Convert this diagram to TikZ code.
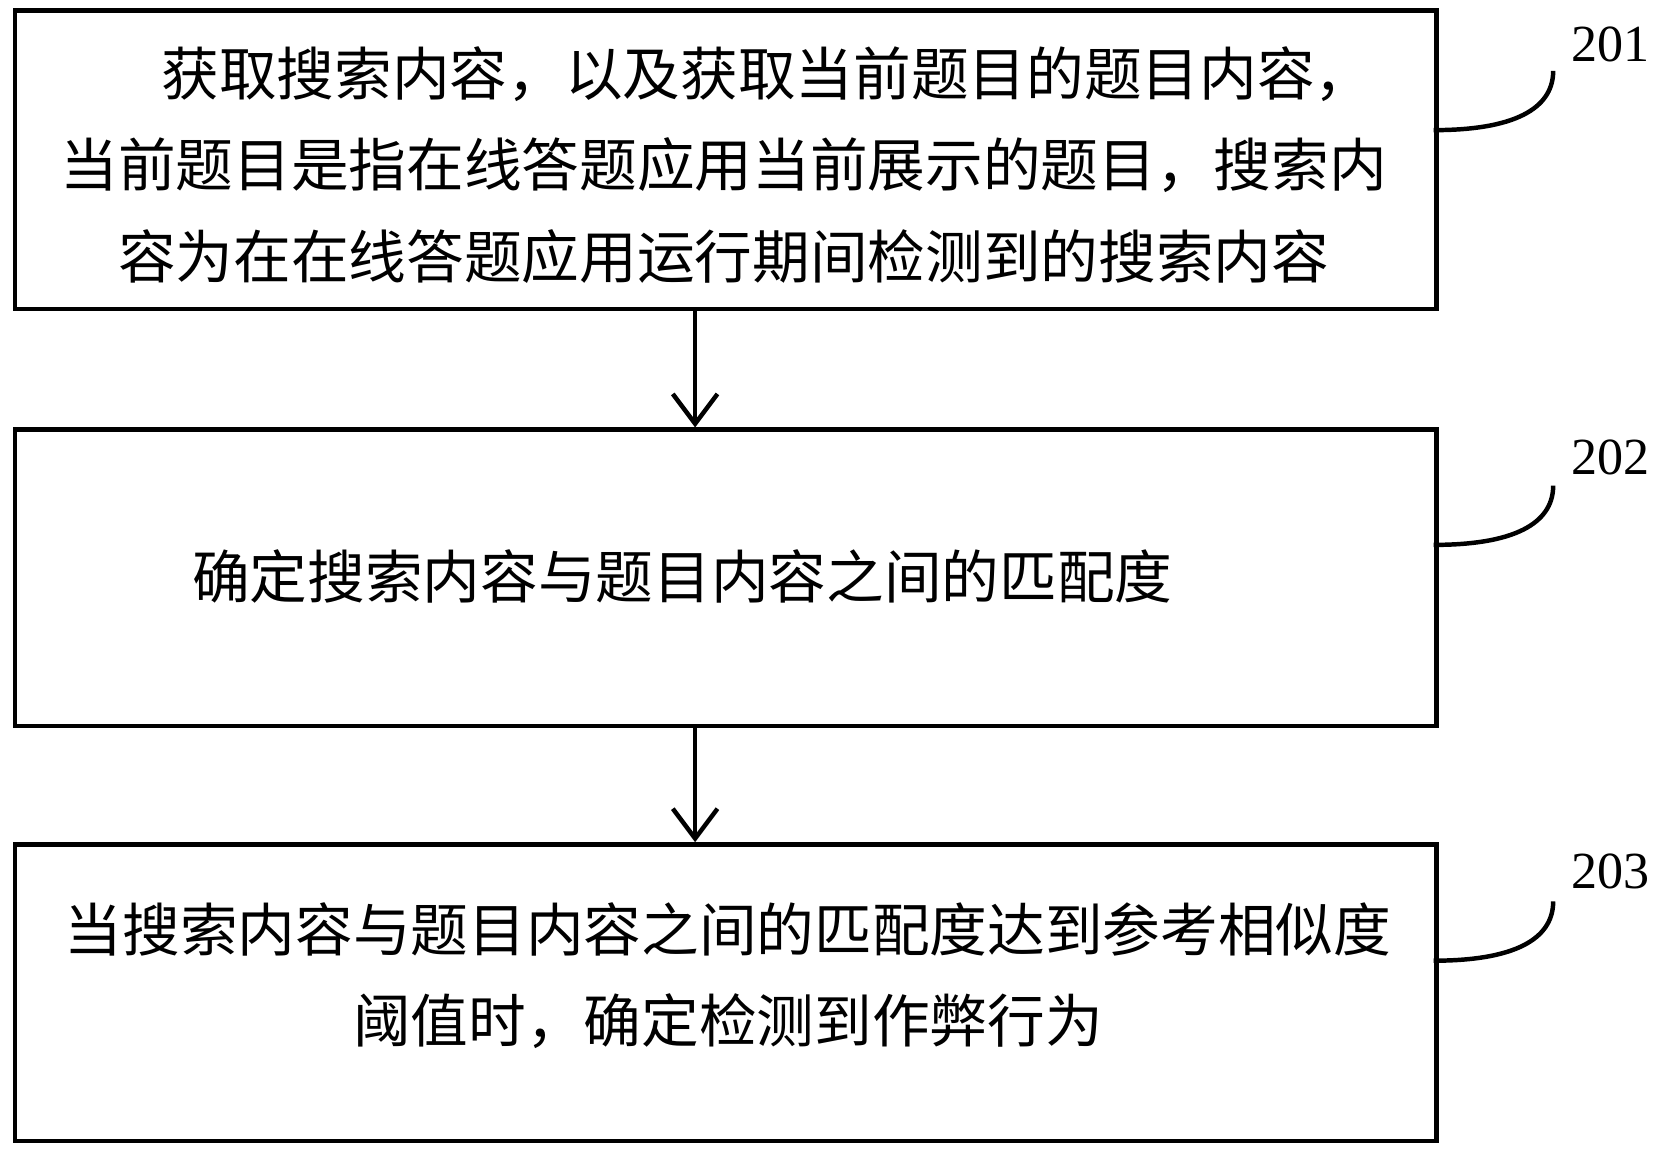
\documentclass[tikz,border=0pt]{standalone}
\usepackage{fontspec}
\usetikzlibrary{arrows.meta}
\newfontfamily\cjk{Noto Sans CJK SC}
\setmainfont{Liberation Serif}
\begin{document}
\begin{tikzpicture}[x=0.01cm,y=-0.01cm,
  stepbox/.style={draw,line width=1.2pt,minimum width=13.43cm,minimum height=2.82cm,anchor=north west,inner sep=0pt},
  txt/.style={align=center,font=\cjk\fontsize{15.5}{24.5}\selectfont},
  lab/.style={font=\fontsize{14}{16}\selectfont},
  arr/.style={-{Straight Barb[length=8pt,width=12pt]},line width=1.2pt}]
\useasboundingbox (0,0) rectangle (1568,1094);
\node[stepbox] (b1) at (12,8) {};
\node[stepbox,minimum height=2.8cm] (b2) at (12,404) {};
\node[stepbox,minimum height=2.8cm] (b3) at (12,796) {};
\node[txt] at (684,156) {\hspace*{1.5em}获取搜索内容，以及获取当前题目的题目内容，\\当前题目是指在线答题应用当前展示的题目，搜索内\\容为在在线答题应用运行期间检测到的搜索内容};
\node[txt] at (645,545) {确定搜索内容与题目内容之间的匹配度};
\node[txt] at (688,922) {当搜索内容与题目内容之间的匹配度达到参考相似度\\阈值时，确定检测到作弊行为};
\draw[arr] (b1.south -| 657,0) -- (b2.north -| 657,0);
\draw[arr] (b2.south -| 657,0) -- (b3.north -| 657,0);
\node[lab] (l1) at (1522,42) {201};
\node[lab] (l2) at (1522,432) {202};
\node[lab] (l3) at (1522,824) {203};
\foreach \y/\l in {123/l1,515/l2,908/l3}{
  \draw[line width=1.2pt] (1355,\y) .. controls (1440,\y) and (1468,\y-25) .. (1468,\y-56);
}
\end{tikzpicture}
\end{document}
